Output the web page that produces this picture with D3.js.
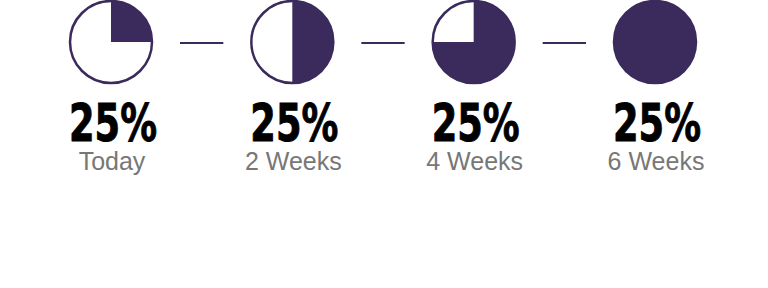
<!DOCTYPE html>
<html>
<head>
<meta charset="utf-8">
<script src="https://cdn.jsdelivr.net/npm/d3@7"></script>
<style>
  body { margin: 0; background: #fff; }
</style>
</head>
<body>
<div id="vis"></div>
<script>
// data
const STAGES = ["Today", "2 Weeks", "4 Weeks", "6 Weeks"];
const FILLED = [0.25, 0.5, 0.75, 1.0];
const VALUE_LABELS = ["25%", "25%", "25%", "25%"];

const FRAME_WIDTH = 768;
const FRAME_HEIGHT = 288;
const COLOR = "#3b2a5c";
const R = 41;

const SVG = d3.select("#vis")
  .append("svg")
    .attr("width", FRAME_WIDTH)
    .attr("height", FRAME_HEIGHT);

// one column per stage
const X_SCALE = d3.scalePoint()
  .domain(STAGES)
  .range([111, 655]);

const CY = 42;

const arc = d3.arc().innerRadius(0).outerRadius(R);

// connectors between circles
SVG.selectAll(".link")
  .data(STAGES.slice(1))
  .enter()
  .append("line")
    .attr("x1", (d, i) => X_SCALE(STAGES[i]) + R + 28)
    .attr("x2", (d) => X_SCALE(d) - R - 28)
    .attr("y1", CY + 1)
    .attr("y2", CY + 1)
    .attr("stroke", COLOR)
    .attr("stroke-width", 2);

const G = SVG.selectAll(".stage")
  .data(STAGES)
  .enter()
  .append("g")
    .attr("transform", (d) => "translate(" + X_SCALE(d) + "," + CY + ")");

// outline
G.append("circle")
  .attr("r", R)
  .attr("fill", "#fff")
  .attr("stroke", COLOR)
  .attr("stroke-width", 2.5);

// filled wedge
G.append("path")
  .attr("d", (d, i) => arc({startAngle: 0, endAngle: FILLED[i] * 2 * Math.PI}))
  .attr("fill", COLOR);

// value (condensed heavy look)
G.append("text")
  .attr("x", 2 - 44)
  .attr("y", 99)
  .attr("textLength", 88)
  .attr("lengthAdjust", "spacingAndGlyphs")
  .attr("font-family", "'DejaVu Sans', sans-serif")
  .attr("font-weight", "bold")
  .attr("font-size", "51px")
  .attr("fill", "#000")
  .attr("stroke", "#000")
  .attr("stroke-width", 1)
  .text((d, i) => VALUE_LABELS[i]);

// stage label
G.append("text")
  .attr("x", 1)
  .attr("y", 128)
  .attr("text-anchor", "middle")
  .attr("font-family", "'Liberation Sans', Arial, sans-serif")
  .attr("font-size", "25px")
  .attr("fill", "#777")
  .text((d) => d);
</script>
</body>
</html>
